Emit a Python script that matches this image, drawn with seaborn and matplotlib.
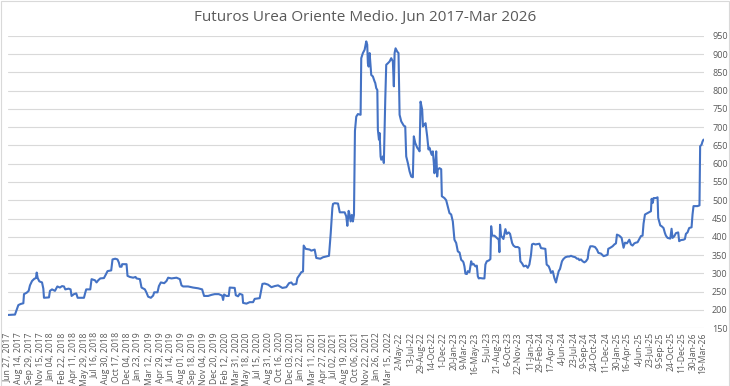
import seaborn as sns
import matplotlib.pyplot as plt
import pandas as pd
from matplotlib.patches import Rectangle

# ---------------------------------------------------
# Datos (posicion en intervalos de etiqueta, USD/t)
# ---------------------------------------------------
t = [0.00, 0.64, 0.80, 0.95, 1.16, 1.41, 1.47, 1.72, 1.90, 2.02, 2.21, 2.42, 2.57, 2.64, 2.73, 2.88,
     3.13, 3.25, 3.31, 3.77, 3.86, 4.05, 4.32, 4.54, 4.78, 4.97, 5.15, 5.27, 5.58, 5.76, 5.85, 6.07,
     6.28, 6.41, 6.99, 7.11, 7.20, 7.57, 7.69, 8.00, 8.15, 8.31, 8.49, 8.83, 9.01, 9.16, 9.50, 9.62,
     9.87, 10.08, 10.21, 10.30, 10.45, 10.51, 10.91, 11.00, 11.22, 11.52, 11.74, 11.83, 12.14, 12.29,
     12.60, 12.75, 12.90, 13.15, 13.36, 13.46, 13.76, 13.89, 14.07, 14.38, 14.59, 14.74, 15.05, 15.51,
     15.82, 15.97, 16.12, 16.58, 17.04, 17.50, 17.87, 18.05, 18.42, 18.73, 19.03, 19.40, 19.71, 19.80,
     19.89, 20.11, 20.32, 20.41, 20.87, 20.97, 21.18, 21.33, 21.58, 21.64, 21.95, 22.25, 22.56, 22.71,
     23.17, 23.42, 23.63, 23.94, 24.25, 24.55, 24.86, 25.26, 25.62, 25.87, 26.08, 26.24, 26.54, 26.64,
     26.85, 27.00, 27.16, 27.22, 27.40, 27.77, 27.92, 28.23, 28.38, 28.75, 29.00, 29.55, 29.71, 29.86,
     29.92, 30.08, 30.38, 30.54, 30.99, 31.14, 31.24, 31.36, 31.45, 31.54, 31.66, 31.75, 31.85, 31.94,
     32.00, 32.06, 32.21, 32.46, 32.52, 32.67, 32.83, 32.98, 33.07, 33.13, 33.20, 33.29, 33.38, 33.44,
     33.59, 33.75, 33.81, 33.90, 34.00, 34.05, 34.15, 34.21, 34.30, 34.36, 34.51, 34.60, 34.67, 34.73,
     34.82, 34.97, 35.13, 35.28, 35.43, 35.52, 35.59, 35.68, 35.83, 35.95, 36.05, 36.20, 36.44, 36.57,
     36.66, 36.81, 36.97, 37.12, 37.27, 37.36, 37.49, 37.67, 37.79, 37.89, 37.98, 38.04, 38.13, 38.20,
     38.29, 38.44, 38.59, 38.71, 38.80, 38.95, 39.02, 39.11, 39.20, 39.26, 39.33, 39.42, 39.51, 39.57,
     39.72, 39.88, 39.94, 40.18, 40.34, 40.49, 40.64, 40.80, 40.95, 41.10, 41.26, 41.41, 41.57, 41.72,
     41.87, 41.93, 42.02, 42.11, 42.24, 42.33, 42.48, 42.64, 42.73, 42.85, 43.03, 43.16, 43.25, 43.34,
     43.46, 43.71, 43.86, 43.95, 44.08, 44.26, 44.41, 44.48, 44.57, 44.78, 45.00, 45.18, 45.24, 45.30,
     45.39, 45.49, 45.61, 45.79, 45.92, 46.10, 46.22, 46.41, 46.53, 46.71, 46.93, 47.08, 47.17, 47.33,
     47.48, 47.69, 47.85, 48.00, 48.15, 48.24, 48.37, 48.55, 48.92, 49.07, 49.29, 49.47, 49.59, 49.78,
     49.90, 49.99, 50.15, 50.30, 50.45, 50.54, 50.70, 50.82, 51.00, 51.13, 51.31, 51.52, 51.68, 51.83,
     51.98, 52.23, 52.38, 52.51, 52.60, 52.75, 52.90, 53.06, 53.21, 53.37, 53.46, 53.61, 53.82, 54.04,
     54.22, 54.35, 54.59, 54.83, 55.05, 55.20, 55.26, 55.45, 55.66, 55.82, 55.97, 56.06, 56.28, 56.49,
     56.67, 56.80, 56.98, 57.20, 57.35, 57.50, 57.66, 57.81, 57.96, 58.27, 58.42, 58.51, 58.64, 58.83,
     59.04, 59.19, 59.25, 59.36, 59.43, 59.65, 59.80, 59.86, 60.05, 60.17, 60.35, 60.47, 60.57, 60.72,
     60.97, 61.09, 61.18, 61.33, 61.49, 61.70, 61.79, 61.95, 62.19, 62.32, 62.41, 62.56, 62.71, 62.93,
     63.02, 63.11, 63.48, 63.66, 63.72, 63.85, 63.94, 64.03]

precio = [186, 187, 200, 213, 216, 218, 243, 247, 252, 267, 279, 285, 287, 302, 287, 278,
          275, 258, 233, 234, 252, 256, 252, 264, 261, 265, 264, 256, 258, 256, 238, 243,
          245, 233, 233, 247, 256, 256, 284, 281, 275, 281, 286, 287, 297, 306, 308, 338,
          340, 338, 329, 318, 318, 325, 325, 293, 290, 288, 290, 286, 284, 261,
          256, 247, 236, 233, 239, 248, 248, 265, 275, 273, 279, 288, 286, 288,
          284, 267, 264, 264, 261, 259, 256, 238, 238, 241, 243, 243, 239, 227,
          242, 238, 238, 261, 260, 240, 237, 244, 241, 219, 217, 221, 221, 230,
          232, 271, 272, 269, 262, 265, 267, 260, 262, 273, 275, 269, 271, 287,
          296, 303, 305, 376, 367, 365, 362, 365, 342, 340, 344, 348, 410, 479,
          490, 492, 491, 467, 467, 456, 430, 471, 460, 442, 460, 442, 460, 690,
          711, 729, 736, 734, 889, 903, 912, 935, 926, 875, 866, 903, 866, 843,
          839, 825, 821, 807, 802, 693, 666, 684, 620, 611, 620, 602, 693, 775,
          871, 875, 880, 889, 880, 812, 903, 916, 907, 903, 734, 716, 704, 702,
          620, 602, 579, 565, 563, 675, 657, 644, 639, 634, 770, 761, 748, 702,
          706, 711, 675, 639, 644, 629, 624, 634, 602, 574, 593, 634, 565, 584,
          588, 585, 511, 506, 500, 483, 465, 461, 442, 392, 383, 360, 357, 337,
          333, 330, 319, 299, 298, 306, 303, 333, 324, 326, 319, 321, 292, 286,
          287, 286, 286, 324, 333, 335, 339, 429, 403, 403, 397, 392, 358, 433,
          403, 399, 394, 421, 408, 412, 408, 383, 376, 372, 372, 369, 333, 327,
          319, 321, 315, 324, 351, 379, 381, 379, 381, 369, 368, 367, 324, 319,
          310, 301, 306, 287, 275, 287, 306, 312, 333, 339, 344, 346, 346, 348,
          346, 344, 340, 340, 336, 338, 333, 330, 333, 340, 361, 374, 374, 372,
          365, 356, 354, 347, 349, 351, 367, 370, 374, 379, 382, 406, 403, 397,
          370, 384, 382, 392, 379, 376, 382, 384, 385, 402, 403, 436, 461, 464,
          467, 470, 504, 493, 506, 506, 508, 452, 431, 429, 424, 411, 403, 397,
          395, 422, 397, 401, 410, 412, 388, 391, 392, 394, 408, 412, 424, 426,
          461, 484, 484, 486, 648, 652, 661, 666]

etiquetas = [
    "Jun 27, 2017", "Aug 14, 2017", "Sep 29, 2017", "Nov 15, 2017", "Jan 04, 2018",
    "Feb 22, 2018", "Apr 11, 2018", "May 29, 2018", "Jul 16, 2018", "Aug 30, 2018",
    "Oct 17, 2018", "Dec 04, 2018", "Jan 23, 2019", "Mar 12, 2019", "Apr 29, 2019",
    "Jun 14, 2019", "Aug 01, 2019", "Sep 18, 2019", "Nov 04, 2019", "Dec 20, 2019",
    "Feb 12, 2020", "Mar 31, 2020", "May 18, 2020", "Jul 15, 2020", "Aug 31, 2020",
    "Oct 16, 2020", "Dec 03, 2020", "Jan 22, 2021", "Mar 11, 2021", "Apr 27, 2021",
    "Jul 02, 2021", "Aug 19, 2021", "Oct 06, 2021", "Nov 22, 2021", "Jan 26, 2022",
    "Mar 15, 2022", "2-May-22", "13-Jul-22", "29-Aug-22", "14-Oct-22", "1-Dec-22",
    "20-Jan-23", "9-Mar-23", "16-May-23", "5-Jul-23", "21-Aug-23", "6-Oct-23",
    "22-Nov-23", "11-Jan-24", "29-Feb-24", "17-Apr-24", "4-Jun-24", "23-Jul-24",
    "9-Sep-24", "24-Oct-24", "11-Dec-24", "30-Jan-25", "16-Apr-25", "4-Jun-25",
    "23-Jul-25", "9-Sep-25", "24-Oct-25", "11-Dec-25", "30-Jan-26", "19-Mar-26",
]

y_ticks = list(range(150, 951, 50))

GRIS = "#595959"
AZUL = "#4472C4"

sns.set_theme(style="white")
plt.rcParams["font.family"] = ["Open Sans", "DejaVu Sans"]

df = pd.DataFrame({"t": t, "precio": precio})

fig = plt.figure(figsize=(7.3, 3.86), dpi=100)
ax = fig.add_axes([0.011, 0.150, 0.953, 0.757])

sns.lineplot(data=df, x="t", y="precio", ax=ax, color=AZUL, linewidth=1.5,
             estimator=None, sort=False)

ax.set_xlim(0, 64.05)
ax.set_ylim(150, 950)
ax.set_yticks(y_ticks)
ax.set_xticks(range(len(etiquetas)))
ax.set_xticklabels(etiquetas, rotation=90, fontsize=6.2, color=GRIS)
ax.yaxis.tick_right()
ax.tick_params(axis="y", labelsize=6.5, labelcolor=GRIS, length=0, pad=6)
ax.tick_params(axis="x", length=0, pad=3)
ax.grid(axis="y", color="#d9d9d9", linewidth=0.8)
ax.grid(axis="x", visible=False)
ax.set_axisbelow(True)
for s in ax.spines.values():
    s.set_visible(False)
ax.set_xlabel("")
ax.set_ylabel("")

fig.text(0.5, 0.955, "Futuros Urea Oriente Medio. Jun 2017-Mar 2026",
         ha="center", va="center", fontsize=11, color=GRIS)

# borde del grafico
fig.patches.append(Rectangle((0.001, 0.001), 0.998, 0.997, transform=fig.transFigure,
                             fill=False, edgecolor="#d9d9d9", linewidth=0.8))

plt.savefig("out.png", dpi=100)
